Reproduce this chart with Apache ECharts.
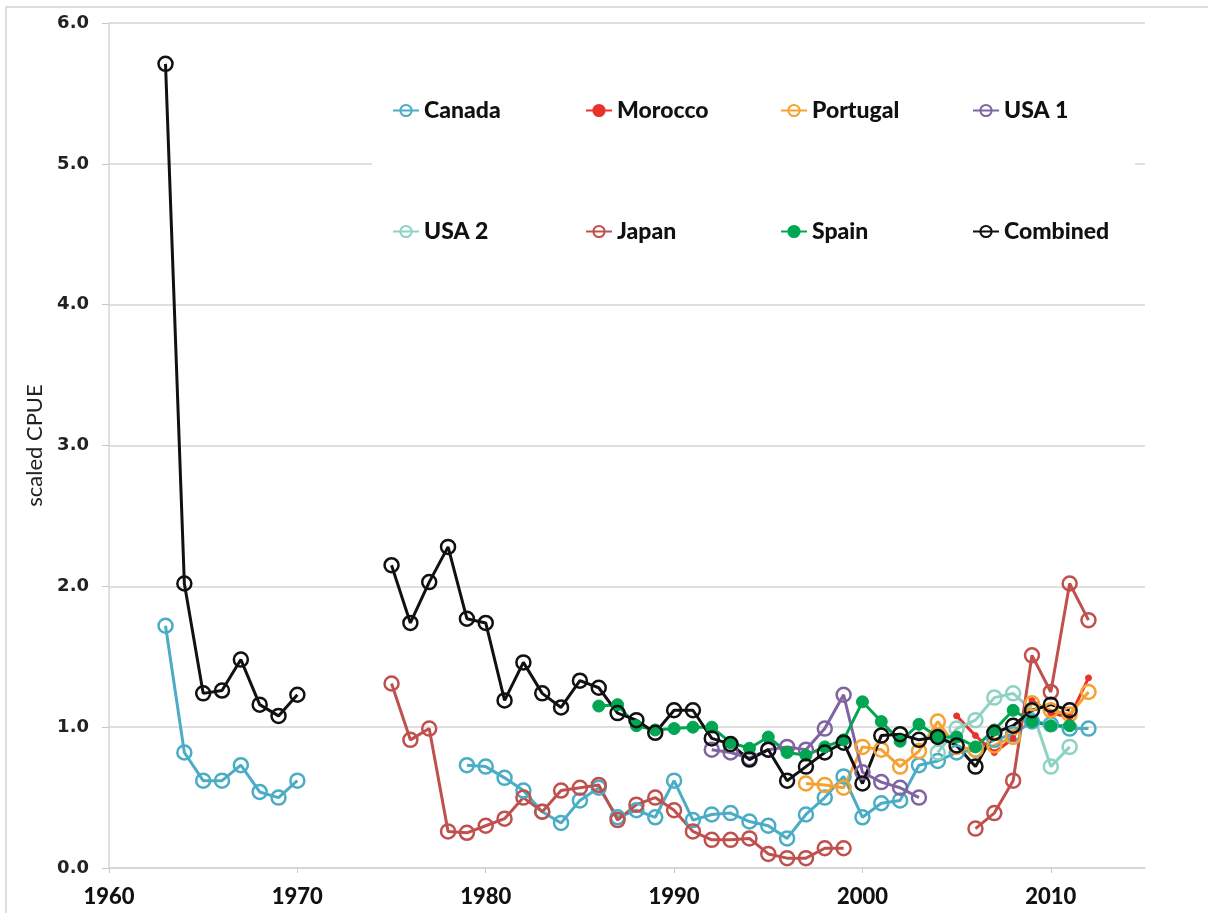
<!DOCTYPE html>
<html><head><meta charset="utf-8">
<script src="https://cdn.jsdelivr.net/npm/echarts@6/dist/echarts.min.js"></script>
<style>html,body{margin:0;padding:0;background:#fff}#c{width:1208px;height:913px}</style>
</head><body><div id="c"></div>
<script>
const years = [1963,1964,1965,1966,1967,1968,1969,1970,1971,1972,1973,1974,1975,1976,1977,1978,1979,1980,1981,1982,1983,1984,1985,1986,1987,1988,1989,1990,1991,1992,1993,1994,1995,1996,1997,1998,1999,2000,2001,2002,2003,2004,2005,2006,2007,2008,2009,2010,2011,2012];
const xTicks = [1960,1970,1980,1990,2000,2010];
const yTicks = [0,1,2,3,4,5,6];
const canada   = [1.72,0.82,0.62,0.62,0.73,0.54,0.50,0.62,null,null,null,null,null,null,null,null,0.73,0.72,0.64,0.55,0.40,0.32,0.48,0.57,0.36,0.41,0.36,0.62,0.34,0.38,0.39,0.33,0.30,0.21,0.38,0.50,0.65,0.36,0.46,0.48,0.73,0.76,0.82,0.84,0.91,0.95,1.04,1.02,0.99,0.99];
const morocco  = [null,null,null,null,null,null,null,null,null,null,null,null,null,null,null,null,null,null,null,null,null,null,null,null,null,null,null,null,null,null,null,null,null,null,null,null,null,null,null,null,null,null,1.08,0.94,0.82,0.92,1.19,1.10,1.07,1.35];
const portugal = [null,null,null,null,null,null,null,null,null,null,null,null,null,null,null,null,null,null,null,null,null,null,null,null,null,null,null,null,null,null,null,null,null,null,0.60,0.59,0.57,0.86,0.84,0.72,0.83,1.04,0.86,0.84,0.87,0.93,1.17,1.12,1.09,1.25];
const usa1     = [null,null,null,null,null,null,null,null,null,null,null,null,null,null,null,null,null,null,null,null,null,null,null,null,null,null,null,null,null,0.84,0.82,0.78,0.84,0.86,0.84,0.99,1.23,0.68,0.61,0.57,0.50,null,null,null,null,null,null,null,null,null];
const usa2     = [null,null,null,null,null,null,null,null,null,null,null,null,null,null,null,null,null,null,null,null,null,null,null,null,null,null,null,null,null,null,null,null,null,null,null,null,null,null,null,null,null,0.82,0.99,1.05,1.21,1.24,1.12,0.72,0.86,null];
const japan    = [null,null,null,null,null,null,null,null,null,null,null,null,1.31,0.91,0.99,0.26,0.25,0.30,0.35,0.50,0.40,0.55,0.57,0.59,0.34,0.45,0.50,0.41,0.26,0.20,0.20,0.21,0.10,0.07,0.07,0.14,0.14,null,null,null,null,null,null,0.28,0.39,0.62,1.51,1.25,2.02,1.76];
const spain    = [null,null,null,null,null,null,null,null,null,null,null,null,null,null,null,null,null,null,null,null,null,null,null,1.15,1.16,1.01,0.98,0.99,1.00,1.00,0.89,0.85,0.93,0.82,0.80,0.86,0.91,1.18,1.04,0.90,1.02,0.93,0.93,0.86,0.98,1.12,1.04,1.01,1.01,null];
const combined = [5.71,2.02,1.24,1.26,1.48,1.16,1.08,1.23,null,null,null,null,2.15,1.74,2.03,2.28,1.77,1.74,1.19,1.46,1.24,1.14,1.33,1.28,1.10,1.05,0.96,1.12,1.12,0.92,0.88,0.77,0.84,0.62,0.72,0.82,0.89,0.60,0.94,0.95,0.91,0.93,0.87,0.72,0.96,1.01,1.12,1.16,1.12,null];

const seriesDefs = [
  {name:'Canada', data:canada, color:'#4bacc6', kind:'open'},
  {name:'Morocco', data:morocco, color:'#e8322c', kind:'small'},
  {name:'Portugal', data:portugal, color:'#f5a232', kind:'open'},
  {name:'USA 1', data:usa1, color:'#8064a2', kind:'open'},
  {name:'USA 2', data:usa2, color:'#8ed2c2', kind:'open'},
  {name:'Japan', data:japan, color:'#c0504d', kind:'open'},
  {name:'Spain', data:spain, color:'#00a651', kind:'filled'},
  {name:'Combined', data:combined, color:'#111111', kind:'open'}
];

const series = seriesDefs.map(d => {
  const s = {
    name: d.name, type: 'line',
    data: years.map((y,i) => [y, d.data[i] === null ? '-' : d.data[i]]),
    connectNulls: false,
    lineStyle: {color: d.color, width: 3},
    emphasis: {disabled: true},
    animation: false
  };
  if (d.kind === 'open') {
    s.symbol = 'circle'; s.symbolSize = 14;
    s.itemStyle = {color: 'rgba(255,255,255,0)', borderColor: d.color, borderWidth: 2.5};
  } else if (d.kind === 'filled') {
    s.symbol = 'circle'; s.symbolSize = 12;
    s.itemStyle = {color: d.color, borderColor: d.color, borderWidth: 1};
  } else {
    s.symbol = 'circle'; s.symbolSize = 6;
    s.itemStyle = {color: d.color, borderColor: d.color, borderWidth: 1};
  }
  return s;
});

const legPos = [[392,99],[585,99],[780,99],[972,99],[392,220],[585,220],[780,220],[972,220]];
const legends = seriesDefs.map((d,i) => ({
  data: [d.name], left: legPos[i][0], top: legPos[i][1], padding: 0,
  itemWidth: 26, itemHeight: 14, itemGap: 4, selectedMode: false,
  textStyle: {fontFamily: 'Lato', fontWeight: 900, fontSize: 23, color: '#111'}
}));

const chart = echarts.init(document.getElementById('c'), null, {renderer: 'canvas'});
chart.setOption({
  animation: false,
  backgroundColor: '#fff',
  grid: {left: 109, top: 23, right: 63, bottom: 45},
  legend: legends,
  graphic: [
    {type: 'rect', z: 1, shape: {x: 372, y: 50, width: 763, height: 215}, style: {fill: '#fff'}},
    {type: 'rect', z: 0, shape: {x: 6, y: 7, width: 1220, height: 930}, style: {fill: 'none', stroke: '#d4d4d4', lineWidth: 1.5}}
  ],
  xAxis: {
    type: 'value', min: 1960, max: 2015, interval: 10,
    axisLine: {show: true, lineStyle: {color: '#d4d4d4', width: 1.5}},
    axisTick: {show: true, length: 5, lineStyle: {color: '#c8c8c8'}},
    splitLine: {show: false},
    axisLabel: {showMaxLabel: false, margin: 18, color: '#111', fontFamily: 'Lato', fontWeight: 900, fontSize: 22, formatter: v => xTicks.indexOf(v) >= 0 ? String(v) : ''}
  },
  yAxis: {
    type: 'value', min: 0, max: 6, interval: 1,
    name: 'scaled CPUE', nameLocation: 'middle', nameGap: 58, nameRotate: 90,
    nameTextStyle: {fontFamily: 'Lato', fontSize: 22, color: '#222'},
    axisLine: {show: true, lineStyle: {color: '#d4d4d4', width: 1.5}},
    axisTick: {show: true, length: 7, lineStyle: {color: '#c8c8c8'}},
    splitLine: {show: true, lineStyle: {color: '#d4d4d4', width: 1.5}},
    axisLabel: {margin: 20, color: '#222', fontFamily: 'DejaVu Sans', fontWeight: 'bold', fontSize: 18, formatter: v => yTicks.indexOf(v) >= 0 ? v.toFixed(1) : ''}
  },
  series: series
});
</script></body></html>
